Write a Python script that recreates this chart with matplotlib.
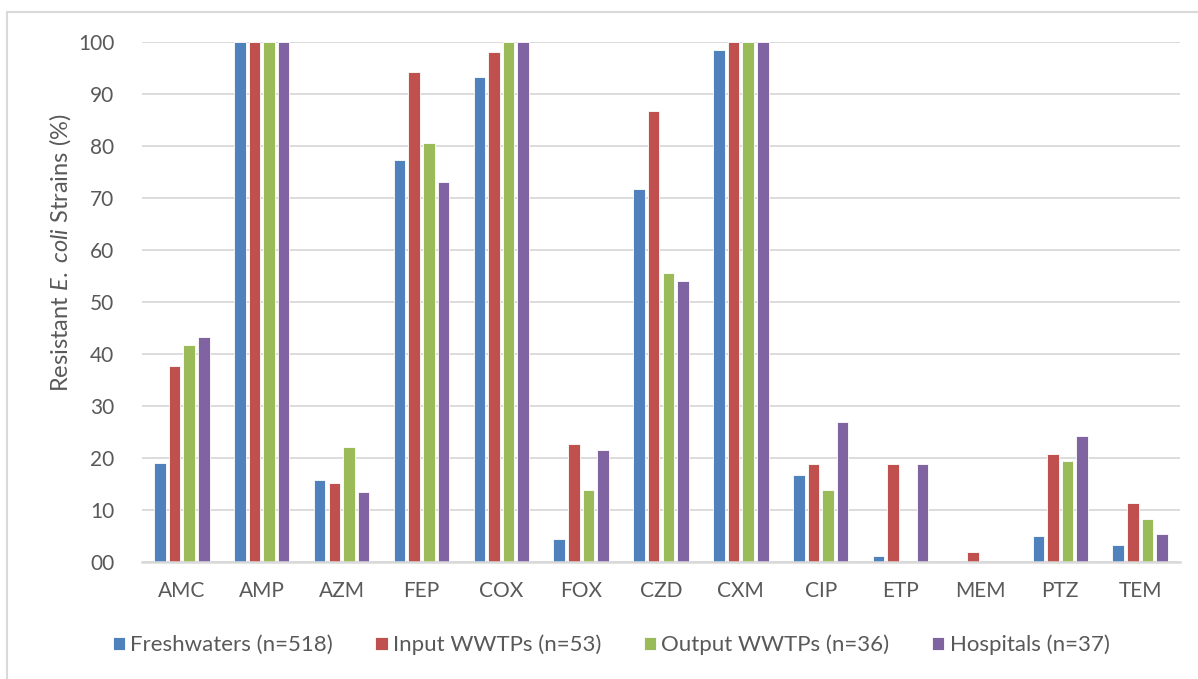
import numpy as np
import matplotlib.pyplot as plt
from matplotlib.patches import Rectangle

plt.rcParams['font.family'] = ['Lato', 'DejaVu Sans']
plt.rcParams['mathtext.fontset'] = 'custom'
plt.rcParams['mathtext.it'] = 'Lato:italic'
plt.rcParams['mathtext.rm'] = 'Lato'

antibiotics = ['AMC', 'AMP', 'AZM', 'FEP', 'COX', 'FOX', 'CZD', 'CXM',
               'CIP', 'ETP', 'MEM', 'PTZ', 'TEM']
freshwaters = [19.1, 100, 15.8, 77.4, 93.2, 4.4, 71.8, 98.4, 16.8, 1.2, 0, 5.0, 3.3]
input_wwtps = [37.7, 100, 15.1, 94.3, 98.1, 22.6, 86.8, 100, 18.9, 18.9, 1.9, 20.8, 11.3]
output_wwtps = [41.7, 100, 22.2, 80.6, 100, 13.9, 55.6, 100, 13.9, 0, 0, 19.4, 8.3]
hospitals = [43.2, 100, 13.5, 73.0, 100, 21.6, 54.1, 100, 27.0, 18.9, 0, 24.3, 5.4]

series = [
    ('Freshwaters (n=518)', freshwaters, '#4F81BD'),
    ('Input WWTPs (n=53)', input_wwtps, '#C0504D'),
    ('Output WWTPs (n=36)', output_wwtps, '#9BBB59'),
    ('Hospitals (n=37)', hospitals, '#8064A2'),
]
yticks = [0, 10, 20, 30, 40, 50, 60, 70, 80, 90, 100]
ytick_labels = ['00', '10', '20', '30', '40', '50', '60', '70', '80', '90', '100']

fig = plt.figure(figsize=(11.98, 6.79), dpi=100)
ax = fig.add_axes([142 / 1198, 1 - 562 / 679, (1180 - 142) / 1198, 520 / 679])

x = np.arange(len(antibiotics))
pitch = 0.183
width = 0.145
for i, (name, vals, col) in enumerate(series):
    ax.bar(x + (i - 1.5) * pitch, vals, width, color=col, label=name,
           edgecolor='white', linewidth=0.6, zorder=3)

ax.set_xlim(-0.5, len(antibiotics) - 0.5)
ax.set_ylim(0, 100)
ax.set_xticks(x)
ax.set_xticklabels(antibiotics)
ax.set_yticks(yticks)
ax.set_yticklabels(ytick_labels)
ax.tick_params(axis='both', length=0, labelsize=15, colors='#595959')
ax.tick_params(axis='x', pad=14)
ax.tick_params(axis='y', pad=20)
ax.grid(axis='y', color='#D9D9D9', linewidth=1.3, zorder=0)
for s in ['top', 'right', 'left']:
    ax.spines[s].set_visible(False)
ax.spines['bottom'].set_color('#D9D9D9')
ax.spines['bottom'].set_linewidth(1.8)
ax.spines['bottom'].set_zorder(4)
ax.set_ylabel(r'Resistant $\mathit{E.\ coli}$ Strains (%)', fontsize=17,
              color='#595959')
ax.yaxis.set_label_coords(-0.066, 0.595)

handles, labels = ax.get_legend_handles_labels()
fig.legend(handles, labels, loc='center', bbox_to_anchor=(0.51, 1 - 645 / 679),
           ncol=4, frameon=False, fontsize=16, handlelength=0.55,
           handleheight=0.55, handletextpad=0.25, columnspacing=1.9,
           labelcolor='#595959')

fig.patches.append(Rectangle((7 / 1198, -0.1), 1.2, 1.1 - 12.5 / 679,
                             transform=fig.transFigure, fill=False,
                             edgecolor='#D9D9D9', linewidth=1.5))

fig.savefig('out.png', dpi=100)
